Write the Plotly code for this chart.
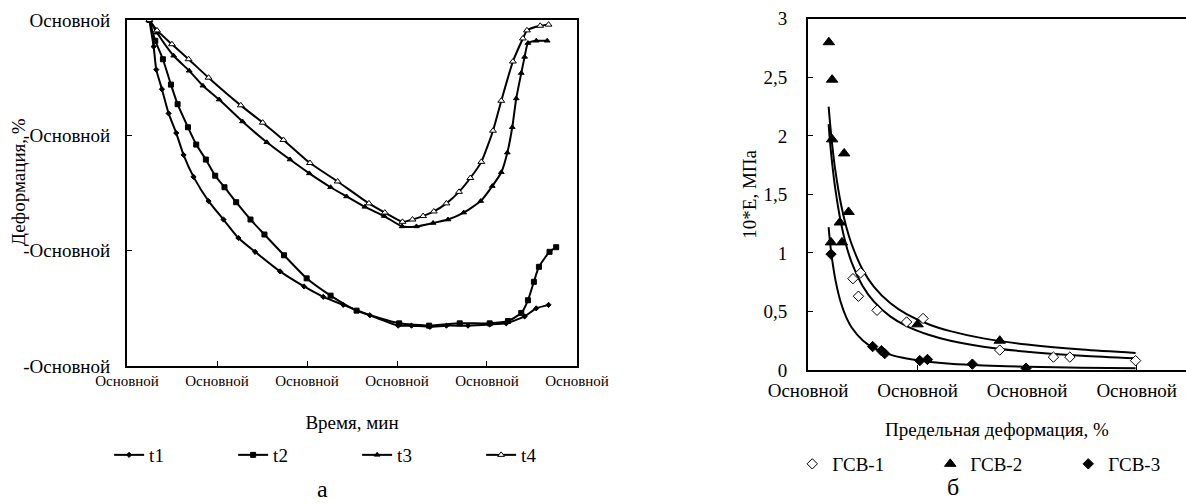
import plotly.graph_objects as go

# ---------------- Left chart (а): deformation vs time ----------------
time_ticks = [0, 10, 20, 30, 40, 50]
time_ticktext = ["Основной"] * 6
def_ticks = [0, -1, -2, -3]
def_ticktext = ["Основной", "-Основной", "-Основной", "-Основной"]

t1_x = [2.48, 2.96, 3.25, 3.88, 4.62, 5.47, 6.28, 7.39, 9.06, 10.72, 12.38, 14.23, 17.01, 19.67,
        21.81, 24.03, 26.99, 30.13, 31.61, 33.64, 35.49, 37.89, 40.30, 42.14, 44.18, 45.47, 46.84]
t1_y = [0.0, -0.23, -0.43, -0.60, -0.81, -0.98, -1.17, -1.36, -1.57, -1.73, -1.89, -2.01, -2.18, -2.31,
        -2.40, -2.47, -2.56, -2.65, -2.65, -2.66, -2.65, -2.65, -2.64, -2.63, -2.57, -2.50, -2.47]

t2_x = [2.48, 3.14, 3.99, 4.88, 5.62, 6.77, 7.69, 8.76, 9.80, 10.83, 12.13, 13.72, 15.27, 17.45,
        19.96, 22.62, 25.51, 30.24, 33.57, 36.97, 40.30, 42.33, 43.81, 44.55, 45.21, 45.77, 46.95, 47.69]
t2_y = [0.0, -0.18, -0.34, -0.56, -0.73, -0.93, -1.08, -1.21, -1.35, -1.45, -1.58, -1.73, -1.86, -2.04,
        -2.24, -2.39, -2.52, -2.63, -2.65, -2.63, -2.63, -2.61, -2.54, -2.43, -2.27, -2.14, -2.01, -1.97]

t3_x = [2.48, 3.33, 5.18, 6.91, 8.43, 10.24, 12.83, 15.53, 18.11, 20.26, 22.62, 24.40, 26.43, 28.58,
        30.57, 32.16, 34.01, 35.67, 37.41, 39.30, 40.59, 41.59, 42.26, 42.81, 43.25, 43.81, 44.18, 44.55,
        45.47, 46.69]
t3_y = [0.0, -0.11, -0.31, -0.44, -0.57, -0.69, -0.88, -1.06, -1.21, -1.33, -1.45, -1.53, -1.62, -1.70,
        -1.79, -1.79, -1.76, -1.73, -1.67, -1.57, -1.44, -1.32, -1.15, -0.93, -0.68, -0.46, -0.32, -0.20,
        -0.18, -0.18]

t4_x = [2.48, 3.33, 4.99, 6.84, 9.06, 12.64, 15.08, 17.38, 20.33, 23.40, 26.88, 28.65, 30.61, 31.72,
        32.90, 34.09, 35.49, 36.89, 38.15, 39.37, 40.67, 41.59, 42.88, 43.99, 44.44, 45.91, 46.84]
t4_y = [0.0, -0.09, -0.21, -0.34, -0.50, -0.74, -0.89, -1.04, -1.24, -1.40, -1.59, -1.67, -1.75, -1.73,
        -1.70, -1.66, -1.59, -1.49, -1.37, -1.23, -0.96, -0.70, -0.36, -0.16, -0.09, -0.05, -0.04]

# ---------------- Right chart (б): 10*E vs limit deformation ----------------
strain_ticks = [0, 1, 2, 3]
strain_ticktext = ["Основной"] * 4
e_ticks = [0, 0.5, 1, 1.5, 2, 2.5, 3]
e_ticktext = ["0", "0,5", "1", "1,5", "2", "2,5", "3"]

gsv1_x = [0.41, 0.48, 0.46, 0.63, 0.90, 1.05, 1.75, 2.24, 2.39, 2.99]
gsv1_y = [0.78, 0.83, 0.63, 0.51, 0.41, 0.44, 0.17, 0.11, 0.11, 0.08]
gsv2_x = [0.19, 0.22, 0.22, 0.33, 0.37, 0.29, 0.31, 0.21, 1.00, 1.75]
gsv2_y = [2.80, 2.48, 1.97, 1.85, 1.35, 1.26, 1.09, 1.09, 0.39, 0.25]
gsv3_x = [0.21, 0.59, 0.67, 0.70, 1.02, 1.09, 1.50, 1.99]
gsv3_y = [0.99, 0.20, 0.165, 0.14, 0.08, 0.09, 0.05, 0.015]

# trend curves
trend_x = [0.188, 0.2, 0.22, 0.25, 0.3, 0.35, 0.4, 0.5, 0.6, 0.75, 0.9, 1.1, 1.3, 1.6, 2.0, 2.5, 2.99]
trend_gsv2 = [2.25, 2.12, 1.93, 1.70, 1.42, 1.22, 1.07, 0.854, 0.713, 0.572, 0.477, 0.391, 0.332, 0.270,
              0.217, 0.174, 0.145]
trend_gsv1 = [2.10, 1.96, 1.77, 1.54, 1.26, 1.06, 0.915, 0.716, 0.586, 0.458, 0.375, 0.301, 0.250, 0.199,
              0.156, 0.122, 0.100]
trend_gsv3 = [1.22, 1.10, 0.945, 0.770, 0.574, 0.448, 0.361, 0.252, 0.188, 0.131, 0.098, 0.071, 0.054,
              0.039, 0.027, 0.019, 0.014]

FONT = "Liberation Serif, Times New Roman, serif"
fig = go.Figure()

left_series = [
    ("t1", t1_x, t1_y, "diamond", 4, "black"),
    ("t2", t2_x, t2_y, "square", 5, "black"),
    ("t3", t3_x, t3_y, "triangle-up", 5, "black"),
    ("t4", t4_x, t4_y, "triangle-up", 6, "white"),
]
for name, xs, ys, sym, size, fill in left_series:
    fig.add_trace(go.Scatter(
        x=xs, y=ys, mode="lines+markers", name=name,
        line=dict(color="black", width=2, shape="spline", smoothing=0.5),
        marker=dict(symbol=sym, size=size, color=fill, line=dict(color="black", width=1)),
        xaxis="x", yaxis="y", legend="legend"))

for ys in [trend_gsv2, trend_gsv1, trend_gsv3]:
    fig.add_trace(go.Scatter(
        x=trend_x, y=ys, mode="lines", showlegend=False, hoverinfo="skip",
        line=dict(color="black", width=2, shape="spline", smoothing=0.8),
        xaxis="x2", yaxis="y2"))

right_series = [
    ("ГСВ-1", gsv1_x, gsv1_y, "diamond", 8, "white", 93),
    ("ГСВ-2", gsv2_x, gsv2_y, "triangle-up", 10, "black", 93),
    ("ГСВ-3", gsv3_x, gsv3_y, "diamond", 8, "black", 55),
]
for name, xs, ys, sym, size, fill, lw in right_series:
    fig.add_trace(go.Scatter(
        x=xs, y=ys, mode="markers", name=name, legendwidth=lw,
        marker=dict(symbol=sym, size=size, color=fill, line=dict(color="black", width=1)),
        xaxis="x2", yaxis="y2", legend="legend2"))

axis_common = dict(showline=True, linecolor="black", linewidth=2, showgrid=False, zeroline=False,
                   ticks="inside", ticklen=5, tickcolor="black", tickmode="array", automargin=False,
                   color="black")

fig.update_layout(
    width=1186, height=504,
    margin=dict(l=0, r=0, t=0, b=0, autoexpand=False),
    paper_bgcolor="white", plot_bgcolor="white",
    font=dict(family=FONT, size=19, color="black"),
    showlegend=True,
    xaxis=dict(domain=[0.1071, 0.4865], range=[0, 50], tickvals=time_ticks, ticktext=time_ticktext,
               mirror=True, anchor="y", tickfont=dict(size=15), ticklabelstandoff=0,
               title=dict(text="Время, мин", standoff=28, font=dict(size=19)), **axis_common),
    yaxis=dict(domain=[0.2738, 0.9603], range=[-3, 0], tickvals=def_ticks, ticktext=def_ticktext,
               mirror=True, anchor="x", tickfont=dict(size=19), ticklabelstandoff=11, **axis_common),
    xaxis2=dict(domain=[0.6813, 1.0], range=[0, 3.45], tickvals=strain_ticks, ticktext=strain_ticktext,
                mirror=True, anchor="y2", tickfont=dict(size=19), ticklabelstandoff=2,
                title=dict(text="Предельная деформация, %", standoff=23, font=dict(size=19)), **axis_common),
    yaxis2=dict(domain=[0.2659, 0.9627], range=[0, 3], tickvals=e_ticks, ticktext=e_ticktext,
                mirror=False, anchor="x2", tickfont=dict(size=19), ticklabelstandoff=15,
                title=dict(text="10*E, МПа", standoff=2, font=dict(size=19)), **axis_common),
    legend=dict(orientation="h", x=0.092, xanchor="left", y=0.0972, yanchor="middle",
                entrywidth=79, bgcolor="rgba(0,0,0,0)", font=dict(size=19), itemwidth=30),
    legend2=dict(orientation="h", x=0.668, xanchor="left", y=0.0794, yanchor="middle",
                 entrywidth=93, bgcolor="rgba(0,0,0,0)", font=dict(size=19), itemwidth=30),
    annotations=[
        dict(text="Деформация, %", x=18 / 1186, y=(504 - 182) / 504, xref="paper", yref="paper",
             showarrow=False, textangle=-90, font=dict(size=19), xanchor="center", yanchor="middle"),
        dict(text="а", x=322 / 1186, y=0.030, xref="paper", yref="paper", showarrow=False,
             font=dict(size=24), xanchor="center", yanchor="middle"),
        dict(text="б", x=953 / 1186, y=0.034, xref="paper", yref="paper", showarrow=False,
             font=dict(size=24), xanchor="center", yanchor="middle"),
    ],
)

fig.write_html(
    "out.html",
    config={"displayModeBar": False},
    post_script="document.body.style.margin='0';document.body.style.padding='0';"
                "document.documentElement.style.overflow='hidden';",
)
